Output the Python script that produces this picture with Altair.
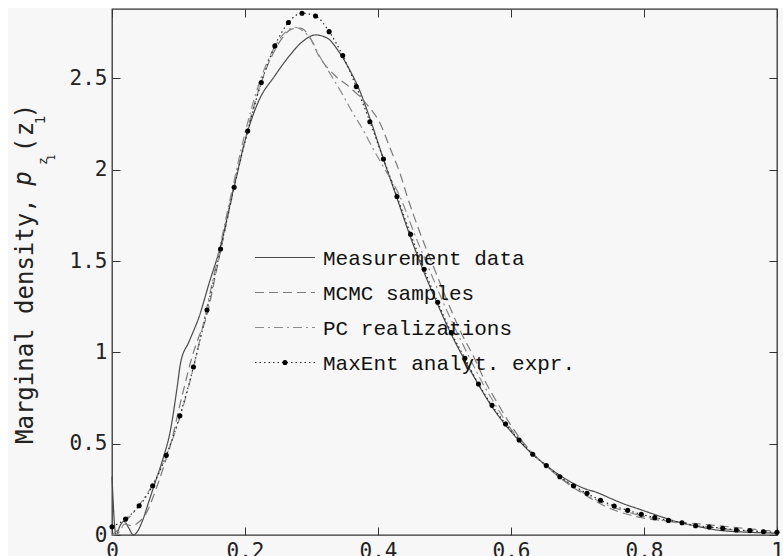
import altair as alt
import pandas as pd

# ---------------- data ----------------
series_names = ["Measurement data", "MCMC samples", "PC realizations", "MaxEnt analyt. expr."]

meas_x = [0.0, 0.006, 0.012, 0.018, 0.025, 0.032, 0.04, 0.046, 0.056, 0.066, 0.076, 0.088, 0.098,
          0.103, 0.116, 0.131, 0.146, 0.162, 0.183, 0.204, 0.221, 0.244, 0.266, 0.286, 0.306,
          0.324, 0.341, 0.356, 0.372, 0.387, 0.408, 0.428, 0.448, 0.469, 0.49, 0.51, 0.53, 0.55,
          0.57, 0.59, 0.61, 0.63, 0.65, 0.67, 0.69, 0.71, 0.73, 0.75, 0.77, 0.79, 0.81, 0.83,
          0.85, 0.87, 0.89, 0.91, 0.93, 0.95, 0.97, 1.0]
meas_y = [0.32, 0.0, 0.05, 0.075, 0.04, 0.0, 0.03, 0.08, 0.19, 0.30, 0.41, 0.575, 0.81,
          0.94, 1.06, 1.195, 1.378, 1.566, 1.90, 2.21, 2.38, 2.51, 2.62, 2.70, 2.738,
          2.72, 2.647, 2.556, 2.437, 2.29, 2.06, 1.85, 1.64, 1.44, 1.26, 1.10, 0.96, 0.83,
          0.71, 0.61, 0.525, 0.45, 0.39, 0.335, 0.29, 0.255, 0.232, 0.20, 0.17, 0.145, 0.12, 0.095,
          0.072, 0.055, 0.04, 0.027, 0.02, 0.016, 0.013, 0.01]

mcmc_x = [0.0, 0.01, 0.02, 0.03, 0.04, 0.051, 0.06, 0.07, 0.08, 0.09, 0.10, 0.11, 0.12, 0.13,
          0.14, 0.16, 0.18, 0.20, 0.22, 0.24, 0.256, 0.27, 0.283, 0.295, 0.3115, 0.334, 0.358,
          0.385, 0.403, 0.418, 0.434, 0.444, 0.464, 0.485, 0.505, 0.525, 0.545, 0.56, 0.58, 0.60,
          0.62, 0.64, 0.66, 0.68, 0.70, 0.72, 0.74, 0.76, 0.78, 0.80, 0.82, 0.84, 0.86, 0.88,
          0.90, 0.92, 0.94, 0.96, 0.98, 1.0]
mcmc_y = [0.0, 0.03, 0.06, 0.05, 0.07, 0.115, 0.19, 0.29, 0.40, 0.52, 0.68, 0.83, 0.97, 1.08,
          1.17, 1.50, 1.84, 2.16, 2.43, 2.62, 2.72, 2.77, 2.775, 2.74, 2.62, 2.52, 2.45,
          2.35, 2.255, 2.12, 1.97, 1.853, 1.647, 1.455, 1.274, 1.108, 0.968, 0.85, 0.72, 0.60,
          0.50, 0.42, 0.355, 0.295, 0.245, 0.20, 0.16, 0.13, 0.108, 0.092, 0.082, 0.075, 0.068, 0.062,
          0.055, 0.048, 0.04, 0.033, 0.026, 0.02]

pc_x = [0.0, 0.005, 0.02, 0.04, 0.06, 0.08, 0.10, 0.12, 0.14, 0.16, 0.18, 0.20, 0.22, 0.24,
        0.255, 0.265, 0.275, 0.287, 0.30, 0.311, 0.329, 0.347, 0.361, 0.377, 0.393, 0.408,
        0.433, 0.455, 0.477, 0.498, 0.519, 0.538, 0.558, 0.577, 0.596, 0.614, 0.634, 0.654,
        0.674, 0.694, 0.714, 0.735, 0.755, 0.776, 0.797, 0.817, 0.837, 0.858, 0.878, 0.90,
        0.92, 0.94, 0.96, 0.98, 1.0]
pc_y = [0.0, 0.0, 0.07, 0.16, 0.27, 0.42, 0.62, 0.88, 1.20, 1.54, 1.88, 2.20, 2.46, 2.64,
        2.73, 2.765, 2.78, 2.76, 2.71, 2.63, 2.52, 2.41, 2.318, 2.222, 2.112, 2.017,
        1.853, 1.647, 1.455, 1.274, 1.108, 0.968, 0.827, 0.71, 0.60, 0.52, 0.44, 0.375,
        0.315, 0.265, 0.22, 0.18, 0.15, 0.125, 0.105, 0.088, 0.074, 0.062, 0.05, 0.042,
        0.034, 0.026, 0.02, 0.015, 0.012]

maxent_x = [i / 49 for i in range(50)]
maxent_y = [0.045, 0.088, 0.16, 0.27, 0.436, 0.653, 0.92, 1.232, 1.566, 1.904,
            2.212, 2.477, 2.678, 2.806, 2.857, 2.842, 2.756, 2.625, 2.455, 2.263,
            2.059, 1.853, 1.647, 1.455, 1.274, 1.108, 0.968, 0.827, 0.710, 0.608,
            0.52, 0.442, 0.38, 0.319, 0.27, 0.228, 0.19, 0.159, 0.135, 0.113,
            0.095, 0.08, 0.067, 0.051, 0.044, 0.037, 0.027, 0.024, 0.018, 0.015]

x_ticks = [0, 0.2, 0.4, 0.6, 0.8, 1]
y_ticks = [0, 0.5, 1, 1.5, 2, 2.5]

# ---------------- build tables ----------------
frames = []
for name, xs, ys in zip(series_names, [meas_x, mcmc_x, pc_x, maxent_x], [meas_y, mcmc_y, pc_y, maxent_y]):
    frames.append(pd.DataFrame({"x": xs, "y": ys, "series": name, "order": list(range(len(xs)))}))
df = pd.concat(frames, ignore_index=True)
df_dots = frames[3]
df_legend = pd.DataFrame({"series": series_names})

line_colors = ["#4a4a4a", "#7c7c7c", "#8c8c8c", "#2a2a2a"]
line_dashes = [[1, 0], [9, 5], [9, 4, 2, 4], [1.5, 3]]
color_scale = alt.Scale(domain=series_names, range=line_colors)
dash_scale = alt.Scale(domain=series_names, range=line_dashes)

xscale = alt.Scale(domain=[0, 1], nice=False, zero=False)
yscale = alt.Scale(domain=[0, 2.88], nice=False, zero=False)

tick_font = "DejaVu Sans Mono"
common_axis = dict(grid=False, domain=False, tickSize=8, tickColor="#333", tickWidth=1,
                   offset=-8, title=None)

x_bottom = alt.Axis(values=x_ticks, format="~g", labelFont=tick_font, labelFontSize=21,
                    labelColor="#222", labelPadding=5, labelFlush=False, **common_axis)
y_left = alt.Axis(values=y_ticks, format="~g", labelFont=tick_font, labelFontSize=21,
                  labelColor="#222", labelPadding=5, **common_axis)
x_top = alt.Axis(orient="top", values=x_ticks, labels=False, **common_axis)
y_right = alt.Axis(orient="right", values=y_ticks, labels=False, **common_axis)

lines = alt.Chart(df).mark_line(strokeWidth=1.2, interpolate="monotone").encode(
    x=alt.X("x:Q", scale=xscale, axis=x_bottom),
    y=alt.Y("y:Q", scale=yscale, axis=y_left),
    color=alt.Color("series:N", scale=color_scale, legend=None),
    strokeDash=alt.StrokeDash("series:N", scale=dash_scale, legend=None),
    order="order:Q",
)

dots = alt.Chart(df_dots).mark_circle(size=26, color="#000", opacity=1).encode(
    x=alt.X("x:Q", scale=xscale, axis=x_top),
    y=alt.Y("y:Q", scale=yscale, axis=y_right),
)

# ---------------- legend (one row per series) ----------------
leg_y = alt.Y("series:N", axis=None,
              scale=alt.Scale(type="point", domain=series_names, range=[248.5, 353.5], padding=0))

leg_keys = alt.Chart(df_legend).mark_rule(strokeWidth=1.2).encode(
    x=alt.value(143), x2=alt.value(203), y=leg_y,
    color=alt.Color("series:N", scale=color_scale, legend=None),
    strokeDash=alt.StrokeDash("series:N", scale=dash_scale, legend=None),
)
leg_dot = alt.Chart(df_legend).transform_filter(
    alt.datum.series == series_names[3]
).mark_circle(size=26, color="#000", opacity=1).encode(x=alt.value(173), y=leg_y)
leg_text = alt.Chart(df_legend).mark_text(
    align="left", baseline="middle", font="Liberation Mono", fontSize=21, color="#111", dy=1
).encode(x=alt.value(211), y=leg_y, text="series:N")

# thin white margin at the top and left of the reference picture
strip_top = alt.Chart(alt.Data(values=[{"k": 0}])).mark_rect(color="#ffffff").encode(
    x=alt.value(-112), x2=alt.value(671), y=alt.value(-9), y2=alt.value(-1))
strip_left = alt.Chart(alt.Data(values=[{"k": 0}])).mark_rect(color="#ffffff").encode(
    x=alt.value(-112), x2=alt.value(-104), y=alt.value(-9), y2=alt.value(547))


def piece(s, x, y, size, italic=False, align="center"):
    return alt.Chart(alt.Data(values=[{"k": 0}])).mark_text(
        text=s, angle=270, align=align, baseline="alphabetic", font=tick_font,
        fontSize=size, fontStyle="italic" if italic else "normal", color="#222",
    ).encode(x=alt.value(x), y=alt.value(y))


title_parts = [
    piece("Marginal density,", -79, 435, 24, align="left"),
    piece("p", -81, 169.5, 24, italic=True),
    piece("z", -65, 152, 13),
    piece("1", -57, 148.5, 10),
    piece("(", -79, 136, 24),
    piece("z", -79, 120, 24),
    piece("1", -67, 111, 14),
    piece(")", -79, 102, 24),
]

chart = alt.layer(
    strip_top, strip_left, lines, dots, leg_keys, leg_dot, leg_text, *title_parts
).resolve_scale(y="independent").resolve_axis(
    x="independent", y="independent"
).properties(
    width=665, height=526,
    autosize=alt.AutoSizeParams(type="none"),
    padding={"left": 112, "top": 9, "right": 6, "bottom": 21},
    background="#f7f7f7",
).configure_view(stroke="#333", strokeWidth=1.3)

chart.save("out.html", embed_options={"renderer": "svg", "actions": False})
